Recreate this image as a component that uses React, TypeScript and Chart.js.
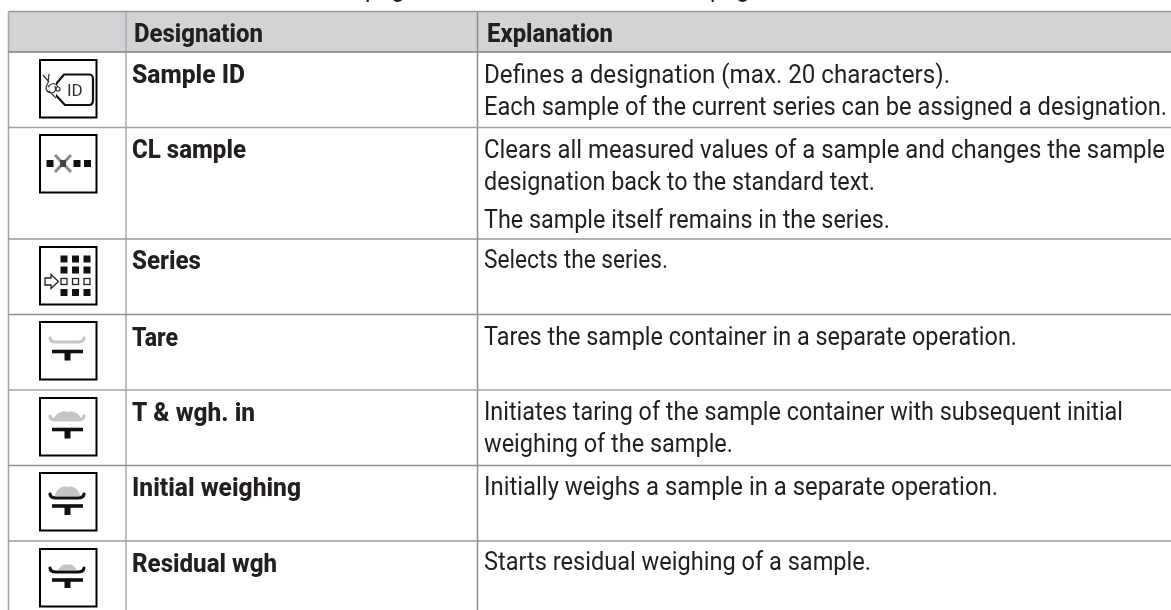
import React, { useEffect, useRef } from "react";
import { Chart, registerables } from "chart.js";

Chart.register(...registerables);

const headers = ["Designation", "Explanation"];
const designations = ["Sample ID", "CL sample", "Series", "Tare", "T & wgh. in", "Initial weighing", "Residual wgh"];
const explanations = [
  "Defines a designation (max. 20 characters).",
  "Each sample of the current series can be assigned a designation.",
  "Clears all measured values of a sample and changes the sample",
  "designation back to the standard text.",
  "The sample itself remains in the series.",
  "Selects the series.",
  "Tares the sample container in a separate operation.",
  "Initiates taring of the sample container with subsequent initial",
  "weighing of the sample.",
  "Initially weighs a sample in a separate operation.",
  "Starts residual weighing of a sample.",
];
const croppedWords = ["page", "page"];

// Layout of the table, in the chart's own x / y units
const W = 1171, H = 610;
const columnEdges = [8.5, 126, 477.5];
const rowEdges = [11.5, 52, 127.5, 239, 314.5, 390, 465.5, 541];
const columnColors = ["#a3a5a7", "#a9abad", "#8b8d8f"];
const rowColors = ["#98999b", "#808285", "#a0a2a4", "#96989a", "#8e9092", "#a0a2a4", "#8e9092", "#96989a"];
const headerX = [134, 487];
const headerEnd = [263, 613];
const headerBaseline = 42;
const designationBaselines = [83, 158, 269, 345.5, 421, 496, 572];
const designationX = 132;
const designationEnds = [245, 246, 201, 178, 255, 301, 277];
const explanationBaselines = [83, 115, 158, 190, 228, 268, 345, 420, 452, 495, 570];
const explanationX = 484;
const explanationEnds = [950, 1167, 1165, 875, 890, 668, 1017, 1123, 733, 998, 871];
const boxTops = [60, 135, 247, 322, 398, 473, 549];
const croppedX = [365, 710];

const INK = "#231f20";
const GRAY = "#c4c5c6";

function fitText(ctx: CanvasRenderingContext2D, text: string, x: number, end: number, base: number, font: string, color: string) {
  ctx.save();
  ctx.font = font;
  ctx.fillStyle = color;
  ctx.textBaseline = "alphabetic";
  const w = ctx.measureText(text).width;
  ctx.translate(x, base);
  ctx.scale((end - x) / w, 1);
  ctx.fillText(text, 0, 0);
  ctx.restore();
}

function tray(ctx: CanvasRenderingContext2D, ox: number, oy: number, color: string) {
  ctx.strokeStyle = color;
  ctx.lineWidth = 3.2;
  ctx.lineCap = "round";
  ctx.beginPath();
  ctx.moveTo(ox + 10, oy);
  ctx.quadraticCurveTo(ox + 10.5, oy + 4, ox + 16, oy + 4);
  ctx.lineTo(ox + 38, oy + 4);
  ctx.quadraticCurveTo(ox + 43.5, oy + 4, ox + 44, oy);
  ctx.stroke();
}

function base(ctx: CanvasRenderingContext2D, ox: number, y: number, stem: number) {
  ctx.fillStyle = "#111";
  ctx.fillRect(ox + 12, y - 1.8, 31, 3.6);
  ctx.fillRect(ox + 24.5, y, 6, stem);
}

function heap(ctx: CanvasRenderingContext2D, cx: number, bottom: number, half: number, h: number) {
  ctx.fillStyle = GRAY;
  ctx.beginPath();
  ctx.moveTo(cx - half, bottom + 1);
  ctx.quadraticCurveTo(cx - half * 0.8, bottom - h * 0.7, cx - half * 0.45, bottom - h * 0.85);
  ctx.quadraticCurveTo(cx - half * 0.25, bottom - h * 1.1, cx, bottom - h * 0.85);
  ctx.quadraticCurveTo(cx + half * 0.25, bottom - h * 1.1, cx + half * 0.45, bottom - h * 0.85);
  ctx.quadraticCurveTo(cx + half * 0.8, bottom - h * 0.7, cx + half, bottom + 1);
  ctx.closePath();
  ctx.fill();
}

function drawIcon(ctx: CanvasRenderingContext2D, i: number, ox: number, oy: number) {
  const cx = ox + 27.5;
  ctx.save();
  if (i === 0) {
    ctx.strokeStyle = "#111";
    ctx.lineWidth = 2.2;
    ctx.lineJoin = "round";
    ctx.beginPath();
    ctx.moveTo(ox + 11, oy + 30);
    ctx.lineTo(ox + 24, oy + 14.5);
    ctx.lineTo(ox + 49, oy + 14.5);
    ctx.quadraticCurveTo(ox + 53, oy + 14.5, ox + 53, oy + 19);
    ctx.lineTo(ox + 53, oy + 40);
    ctx.quadraticCurveTo(ox + 53, oy + 45, ox + 49, oy + 45);
    ctx.lineTo(ox + 25, oy + 45);
    ctx.closePath();
    ctx.stroke();
    ctx.fillStyle = "#fff";
    ctx.fillRect(ox + 8, oy + 20, 8, 19);
    ctx.strokeStyle = "#333";
    ctx.lineWidth = 1.2;
    ctx.beginPath();
    ctx.moveTo(ox + 20, oy + 29);
    ctx.arc(ox + 18, oy + 29, 2, 0, Math.PI * 2);
    ctx.moveTo(ox + 3, oy + 15);
    ctx.lineTo(ox + 9, oy + 22);
    ctx.moveTo(ox + 9, oy + 14);
    ctx.lineTo(ox + 8, oy + 23);
    ctx.moveTo(ox + 8, oy + 23);
    ctx.quadraticCurveTo(ox + 3, oy + 31, ox + 11, oy + 33);
    ctx.quadraticCurveTo(ox + 17, oy + 33, ox + 15, oy + 26);
    ctx.moveTo(ox + 8, oy + 27);
    ctx.quadraticCurveTo(ox + 14, oy + 20, ox + 18, oy + 27);
    ctx.moveTo(ox + 9, oy + 31);
    ctx.lineTo(ox + 16, oy + 38);
    ctx.stroke();
    ctx.fillStyle = "#333";
    ctx.font = "400 17px Roboto";
    ctx.fillText("ID", ox + 27, oy + 36);
  } else if (i === 1) {
    ctx.fillStyle = "#111";
    [6.5, 33.5, 44].forEach((dx) => ctx.fillRect(ox + dx, oy + 25, 7, 7));
    ctx.strokeStyle = "#8a8a8a";
    ctx.lineWidth = 3;
    ctx.beginPath();
    ctx.moveTo(ox + 15, oy + 20);
    ctx.lineTo(ox + 31, oy + 37);
    ctx.moveTo(ox + 31, oy + 20);
    ctx.lineTo(ox + 15, oy + 37);
    ctx.stroke();
    ctx.fillStyle = "#444";
    ctx.fillRect(ox + 20, oy + 25, 6, 7);
  } else if (i === 2) {
    const cols = [20.5, 32, 43.5];
    const rows = [8.5, 19.5, 31, 42];
    rows.forEach((ry, r) => cols.forEach((cl) => {
      if (r === 2) {
        ctx.strokeStyle = "#222";
        ctx.lineWidth = 1.3;
        ctx.strokeRect(ox + cl + 0.5, oy + ry + 0.5, 6, 6);
      } else {
        ctx.fillStyle = "#111";
        ctx.fillRect(ox + cl, oy + ry, 7, 7);
      }
    }));
    ctx.strokeStyle = "#222";
    ctx.lineWidth = 1.3;
    ctx.lineJoin = "miter";
    ctx.beginPath();
    ctx.moveTo(ox + 5, oy + 31);
    ctx.lineTo(ox + 11, oy + 31);
    ctx.lineTo(ox + 11, oy + 27.5);
    ctx.lineTo(ox + 18.5, oy + 34.5);
    ctx.lineTo(ox + 11, oy + 41.5);
    ctx.lineTo(ox + 11, oy + 38);
    ctx.lineTo(ox + 5, oy + 38);
    ctx.closePath();
    ctx.stroke();
  } else if (i === 3) {
    tray(ctx, ox, oy + 16, GRAY);
    base(ctx, ox, oy + 29.5, 9);
  } else if (i === 4) {
    heap(ctx, cx, oy + 20, 14, 7);
    tray(ctx, ox, oy + 18, GRAY);
    base(ctx, ox, oy + 31.5, 9);
  } else if (i === 5) {
    heap(ctx, cx, oy + 22, 13, 9);
    tray(ctx, ox, oy + 21, "#111");
    base(ctx, ox, oy + 33, 9);
  } else {
    heap(ctx, cx, oy + 20, 9, 5);
    tray(ctx, ox, oy + 19, "#111");
    base(ctx, ox, oy + 31, 8);
  }
  ctx.restore();
}

const tablePlugin = {
  id: "tablePlugin",
  beforeDatasetsDraw(chart: any) {
    const { ctx, scales: { x, y } } = chart;
    ctx.save();
    ctx.fillStyle = "#d1d3d4";
    ctx.fillRect(x.getPixelForValue(columnEdges[0]), y.getPixelForValue(rowEdges[0]), W, y.getPixelForValue(rowEdges[1]) - y.getPixelForValue(rowEdges[0]));
    ctx.restore();
  },
  afterDatasetsDraw(chart: any) {
    const { ctx, scales: { x, y } } = chart;
    const regular = "400 25px Roboto, sans-serif";
    const bold = "800 25px Roboto, sans-serif";
    croppedWords.forEach((t, i) => fitText(ctx, t, x.getPixelForValue(croppedX[i]), x.getPixelForValue(croppedX[i] + 52), y.getPixelForValue(-3), regular, INK));
    headers.forEach((t, i) => fitText(ctx, t, x.getPixelForValue(headerX[i]), x.getPixelForValue(headerEnd[i]), y.getPixelForValue(headerBaseline), bold, INK));
    designations.forEach((t, i) => fitText(ctx, t, x.getPixelForValue(designationX), x.getPixelForValue(designationEnds[i]), y.getPixelForValue(designationBaselines[i]), bold, INK));
    explanations.forEach((t, i) => fitText(ctx, t, x.getPixelForValue(explanationX), x.getPixelForValue(explanationEnds[i]), y.getPixelForValue(explanationBaselines[i]), regular, INK));
    boxTops.forEach((top, i) => {
      const ox = x.getPixelForValue(40), oy = y.getPixelForValue(top);
      ctx.save();
      ctx.fillStyle = "#fff";
      ctx.strokeStyle = "#000";
      ctx.lineWidth = 2;
      ctx.fillRect(ox, oy, 56.5, 57.5);
      ctx.strokeRect(ox, oy, 56.5, 57.5);
      ctx.restore();
      drawIcon(ctx, i, ox, oy);
    });
  },
};

export default function App() {
  const ref = useRef<HTMLCanvasElement | null>(null);
  useEffect(() => {
    document.body.style.margin = "0";
    const rules = [
      ...rowEdges.map((edge, i) => ({
        data: [{ x: columnEdges[0], y: edge }, { x: W, y: edge }],
        borderColor: rowColors[i],
      })),
      ...columnEdges.map((edge, i) => ({
        data: [{ x: edge, y: rowEdges[0] }, { x: edge, y: H }],
        borderColor: columnColors[i],
      })),
    ].map((d) => ({ ...d, showLine: true, borderWidth: 1.5, pointRadius: 0, fill: false }));
    const chart = new Chart(ref.current as HTMLCanvasElement, {
      type: "scatter",
      data: { datasets: rules },
      options: {
        animation: false,
        responsive: false,
        layout: { padding: 0 },
        plugins: { legend: { display: false }, tooltip: { enabled: false }, title: { display: false } },
        scales: {
          x: { type: "linear", min: 0, max: W, display: false },
          y: { type: "linear", min: 0, max: H, reverse: true, display: false },
        },
      },
      plugins: [tablePlugin],
    } as any);
    return () => chart.destroy();
  }, []);
  return (
    <div style={{ position: "absolute", left: 0, top: 0, width: W, height: H, background: "#fff" }}>
      <canvas ref={ref} width={W} height={H} style={{ display: "block", width: W, height: H }} />
    </div>
  );
}
